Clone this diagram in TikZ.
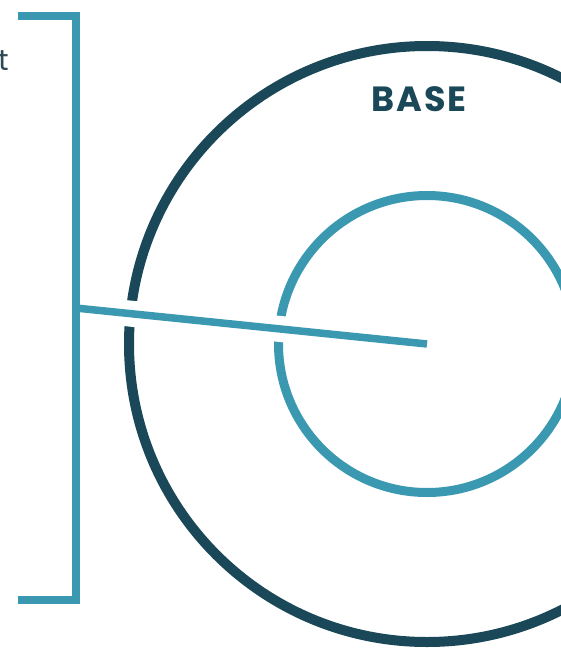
\documentclass[tikz,border=0pt]{standalone}
\usepackage{fontspec}
\setsansfont{Poppins}
\usepackage{xcolor}
\usepackage{tikz}
\usetikzlibrary{positioning, calc}
\definecolor{baseteal}{HTML}{3A99B1}
\definecolor{basedark}{HTML}{1A4858}
\definecolor{basetext}{HTML}{2E4A56}
\tikzset{
  outerring/.style={draw=basedark, line width=10pt},
  innerring/.style={draw=baseteal, line width=9pt},
  bracketline/.style={draw=baseteal, line width=8pt, miter limit=10},
  gapline/.style={draw=white, line width=26pt},
  pointerline/.style={draw=baseteal, line width=7.5pt},
  ringlabel/.style={font=\sffamily\bfseries\fontsize{35}{40}\selectfont\addfontfeature{LetterSpace=6}, text=basedark, inner sep=0pt},
  sidelabel/.style={font=\sffamily\fontsize{29}{34}\selectfont, text=basetext, inner sep=0pt}
}
\begin{document}
\begin{tikzpicture}[x=1pt, y=-1pt]
  \useasboundingbox (0,0) rectangle (561,648);

  % === Rings ===
  \coordinate (ctr) at (427,344);
  \draw[outerring] (ctr) circle[radius=298pt];
  \draw[innerring] (ctr) circle[radius=148.5pt];
  \node[ringlabel] (base) at (419,99.5) {BASE};

  % === Bracket ===
  \coordinate (brtop) at (18,15.5);
  \coordinate (brbot) at (18,600);
  \coordinate (brjoin) at (75.5,308);
  \draw[bracketline] (brtop) -- (brtop -| brjoin) -- (brbot -| brjoin) -- (brbot);

  % === Pointer into the rings ===
  \draw[gapline, shorten <=30pt, shorten >=60pt] (brjoin) -- (ctr);
  \draw[pointerline] (brjoin) -- (ctr);

  % === Cut-off side text ===
  \node[sidelabel, anchor=base east] (side) at (9,70) {t};
\end{tikzpicture}
\end{document}
